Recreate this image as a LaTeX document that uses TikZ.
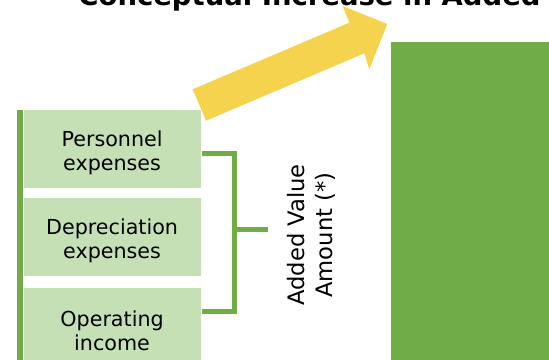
\documentclass[tikz,border=0pt]{standalone}
\usepackage{fontspec}
\setmainfont{DejaVu Sans}
\definecolor{leafgreen}{HTML}{70AD47}
\definecolor{palegreen}{HTML}{C5E0B4}
\definecolor{sunyellow}{HTML}{F5D34F}
\tikzset{
  costbox/.style={fill=palegreen, inner sep=0pt, minimum width=132.75pt, minimum height=58.5pt, anchor=north west},
  costtext/.style={align=center, inner sep=0pt, yshift=-2.5pt, font=\fontsize{15.5}{18.4}\selectfont},
  bracket/.style={draw=leafgreen, line width=3.5pt},
}
\begin{document}
\begin{tikzpicture}[x=0.75pt,y=0.75pt,yscale=-1,xscale=1]
        \useasboundingbox (0,0) rectangle (549,360);
        \clip (0,0) rectangle (549,360);
        % title, cut off at the top edge
        \node (title) [anchor=base, inner sep=0pt, font=\bfseries\fontsize{20.6}{24}\selectfont] at (309.5,5.5) {Conceptual Increase in Added};
        % growth arrow
        \fill [sunyellow] (192.7,89.3) -- (349.3,22.7) -- (342.7,6) -- (387.3,24) -- (369.3,69.3) -- (364.3,53.3) -- (206,120.7) -- cycle ;
        % left bar and cost items
        \fill [leafgreen] (17.3,110) rectangle (23.3,370) ;
        \node (pers) [costbox, label={[costtext]center:{Personnel\\expenses}}] at (23.3,110) {};
        \node (depr) [costbox, label={[costtext]center:{Depreciation\\expenses}}] at (23.3,198) {};
        \node (opin) [costbox, label={[costtext]center:{Operating\\income}}] at (23.3,288) {};
        % bracket
        \coordinate (brtop) at (201.7,153.5);
        \coordinate (brbot) at (201.7,311.7);
        \coordinate (brmid) at (234.2,229.6);
        \coordinate (brend) at (268,229.6);
        \draw [bracket] (brtop) -| (brmid) |- (brbot) ;
        \draw [bracket] (brmid) -- (brend) ;
        \node (value) [rotate=90, align=center, inner sep=0pt, font=\fontsize{17}{21}\selectfont] at (311,235) {Added Value\\Amount (*)};
        % added value block
        \fill [leafgreen] (391,42) rectangle (560,370) ;
    \end{tikzpicture}
\end{document}
